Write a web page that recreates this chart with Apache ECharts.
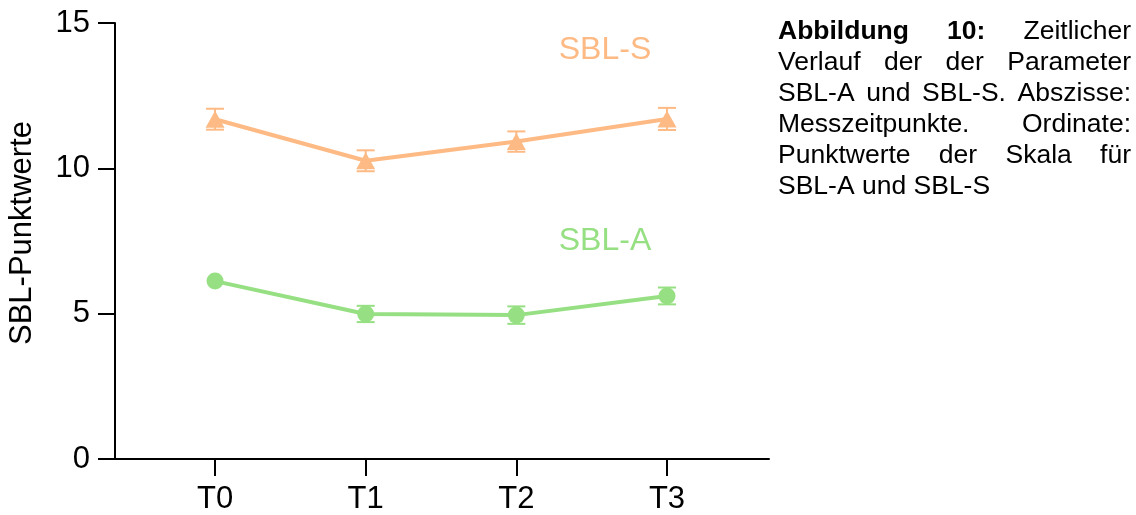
<!DOCTYPE html>
<html>
<head>
<meta charset="utf-8">
<title>SBL-A und SBL-S</title>
<script src="https://cdn.jsdelivr.net/npm/echarts@6/dist/echarts.min.js"></script>
<style>
  html, body { margin: 0; padding: 0; background: #fff; }
  #chart { width: 1136px; height: 515px; }
</style>
</head>
<body>
<div id="chart"></div>
<script>
// Messzeitpunkte
const timepoints = ['T0', 'T1', 'T2', 'T3'];
const yTicks = [0, 5, 10, 15];

// Mittelwerte und Standardfehler
const sblS = [11.69, 10.26, 10.92, 11.70];
const sblSErr = [0.36, 0.36, 0.35, 0.38];
const sblA = [6.12, 4.99, 4.95, 5.61];
const sblAErr = [0.15, 0.28, 0.30, 0.29];

// Bildunterschrift, zeilenweise; fette Wörter mit * markiert
const captionLines = [
  ['*Abbildung', '*10:', 'Zeitlicher'],
  ['Verlauf', 'der', 'der', 'Parameter'],
  ['SBL-A', 'und', 'SBL-S.', 'Abszisse:'],
  ['Messzeitpunkte.', 'Ordinate:'],
  ['Punktwerte', 'der', 'Skala', 'für'],
  ['SBL-A', 'und', 'SBL-S']
];

const FONT = "'Liberation Sans', Arial, Helvetica, sans-serif";
const ORANGE = '#FEBA84';
const GREEN = '#96E083';
const SYMBOL_SIZE = 17;
// Fehlerbalken mit kürzerer Halblänge (px) liegen ganz im Symbol
const MIN_BAR_HALF = 5;

const chart = echarts.init(document.getElementById('chart'), null, { renderer: 'canvas' });

function pointData(values) {
  return values.map((v, i) => [i, v]);
}
function errData(values, errs) {
  return values.map((v, i) => [i, v - errs[i], v + errs[i]]);
}

// Fehlerbalken (SEM) mit Querstrichen
function errorBarSeries(name, values, errs, color) {
  return {
    name: name,
    type: 'custom',
    data: errData(values, errs),
    z: 1,
    silent: true,
    renderItem: function (params, api) {
      const x = api.value(0);
      const lo = api.coord([x, api.value(1)]);
      const hi = api.coord([x, api.value(2)]);
      if (Math.abs(lo[1] - hi[1]) / 2 < MIN_BAR_HALF) {
        return null;
      }
      const half = 9;
      const style = { stroke: color, lineWidth: 2, fill: null };
      return {
        type: 'group',
        children: [
          { type: 'line', shape: { x1: lo[0], y1: lo[1], x2: hi[0], y2: hi[1] }, style: style },
          { type: 'line', shape: { x1: lo[0] - half, y1: lo[1], x2: lo[0] + half, y2: lo[1] }, style: style },
          { type: 'line', shape: { x1: hi[0] - half, y1: hi[1], x2: hi[0] + half, y2: hi[1] }, style: style }
        ]
      };
    }
  };
}

// Blocksatz für die Bildunterschrift
const CAPTION_SIZE = 26.5;
const measureCtx = document.createElement('canvas').getContext('2d');
function wordFont(bold) {
  return (bold ? 'bold ' : '') + CAPTION_SIZE + 'px ' + FONT;
}
function captionElements() {
  const left = 778, right = 1131, center0 = 32, lineStep = 31;
  const els = [];
  captionLines.forEach((words, li) => {
    const parts = words.map(w => {
      const bold = w.startsWith('*');
      const text = bold ? w.slice(1) : w;
      measureCtx.font = wordFont(bold);
      return { text, bold, width: measureCtx.measureText(text).width };
    });
    const last = li === captionLines.length - 1;
    let gap;
    if (last || parts.length < 2) {
      measureCtx.font = wordFont(false);
      gap = measureCtx.measureText(' ').width;
    } else {
      const total = parts.reduce((s, p) => s + p.width, 0);
      gap = (right - left - total) / (parts.length - 1);
    }
    let x = left;
    parts.forEach(p => {
      els.push({
        type: 'text',
        x: x,
        y: center0 + li * lineStep,
        silent: true,
        style: {
          text: p.text,
          font: wordFont(p.bold),
          fill: '#000',
          align: 'left',
          verticalAlign: 'middle'
        }
      });
      x += p.width + gap;
    });
  });
  return els;
}

const option = {
  animation: false,
  backgroundColor: '#fff',
  grid: { left: 115, right: 367, top: 23, bottom: 56, containLabel: false },
  xAxis: {
    type: 'value',
    min: -0.664,
    max: 3.677,
    splitLine: { show: false },
    axisLine: { show: true, onZero: false, lineStyle: { color: '#000', width: 2 } },
    axisTick: {
      show: true,
      customValues: [0, 1, 2, 3],
      length: 17,
      lineStyle: { color: '#000', width: 2 }
    },
    axisLabel: {
      show: true,
      customValues: [0, 1, 2, 3],
      formatter: v => timepoints[Math.round(v)],
      fontFamily: FONT,
      fontSize: 31,
      color: '#000',
      margin: 25
    }
  },
  yAxis: {
    type: 'value',
    min: 0,
    max: 15,
    interval: 5,
    splitLine: { show: false },
    axisLine: { show: true, onZero: false, lineStyle: { color: '#000', width: 2 } },
    axisTick: { show: true, length: 17, lineStyle: { color: '#000', width: 2 } },
    axisLabel: {
      fontFamily: FONT,
      fontSize: 31,
      color: '#000',
      margin: 25,
      formatter: v => (yTicks.indexOf(v) >= 0 ? String(v) : '')
    }
  },
  series: [
    errorBarSeries('SBL-S Fehler', sblS, sblSErr, ORANGE),
    errorBarSeries('SBL-A Fehler', sblA, sblAErr, GREEN),
    {
      name: 'SBL-S',
      type: 'line',
      data: pointData(sblS),
      z: 3,
      symbol: 'triangle',
      symbolSize: [19, SYMBOL_SIZE],
      showAllSymbol: true,
      lineStyle: { color: ORANGE, width: 4 },
      itemStyle: { color: ORANGE, borderWidth: 0 },
      emphasis: { disabled: true }
    },
    {
      name: 'SBL-A',
      type: 'line',
      data: pointData(sblA),
      z: 3,
      symbol: 'circle',
      symbolSize: SYMBOL_SIZE,
      showAllSymbol: true,
      lineStyle: { color: GREEN, width: 4 },
      itemStyle: { color: GREEN, borderWidth: 0 },
      emphasis: { disabled: true }
    }
  ],
  graphic: [
    {
      // Achsentitel der Ordinate
      type: 'text', x: 22, y: 233, rotation: Math.PI / 2, silent: true,
      style: { text: 'SBL-Punktwerte', font: '31px ' + FONT, fill: '#000', align: 'center', verticalAlign: 'middle' }
    },
    {
      type: 'text', x: 605, y: 50, silent: true,
      style: { text: 'SBL-S', font: '32px ' + FONT, fill: ORANGE, align: 'center', verticalAlign: 'middle' }
    },
    {
      type: 'text', x: 605, y: 241, silent: true,
      style: { text: 'SBL-A', font: '32px ' + FONT, fill: GREEN, align: 'center', verticalAlign: 'middle' }
    }
  ].concat(captionElements())
};

chart.setOption(option);
</script>
</body>
</html>
